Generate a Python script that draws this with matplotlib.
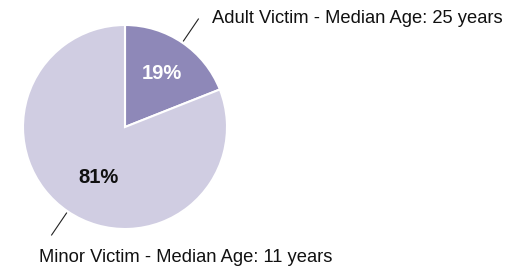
import matplotlib.pyplot as plt
import numpy as np

plt.rcParams['font.family'] = ['Liberation Sans', 'DejaVu Sans']

labels = ['Adult Victim - Median Age: 25 years', 'Minor Victim - Median Age: 11 years']
shares = [19, 81]
colors = ['#8e88b8', '#d0cde2']
pct_colors = ['white', '#111111']

fig = plt.figure(figsize=(5.29, 2.69), dpi=100)
ax = fig.add_axes([23 / 529, 40 / 269, 204 / 529, 204 / 269])

wedges, _, autotexts = ax.pie(shares, colors=colors, startangle=90, counterclock=False,
                              radius=1, autopct='%d%%', pctdistance=0.6,
                              wedgeprops=dict(edgecolor='white', linewidth=1.5))
# label placement (radius, angle offset in degrees)
pct_place = [(0.64, 0), (0.56, 6)]
for t, c, w, (r, off) in zip(autotexts, pct_colors, wedges, pct_place):
    ang = np.deg2rad((w.theta1 + w.theta2) / 2 + off)
    t.set_position((r * np.cos(ang), r * np.sin(ang)))
    t.set_color(c)
    t.set_fontweight('bold')
    t.set_fontsize(14.5)

# leader lines and outer labels
text_pos = [(0.85, 1.06, 'left'), (-0.84, -1.28, 'left')]
for w, lab, (tx, ty, ha) in zip(wedges, labels, text_pos):
    ang = np.deg2rad((w.theta1 + w.theta2) / 2)
    ax.plot([1.02 * np.cos(ang), 1.28 * np.cos(ang)],
            [1.02 * np.sin(ang), 1.28 * np.sin(ang)],
            color='#222222', linewidth=0.8, clip_on=False)
    ax.text(tx, ty, lab, ha=ha, va='center', fontsize=13.2, color='#111111', clip_on=False)

ax.set_xlim(-1, 1)
ax.set_ylim(-1, 1)
ax.set_aspect('equal')
ax.axis('off')

fig.savefig('out.png', dpi=100)
